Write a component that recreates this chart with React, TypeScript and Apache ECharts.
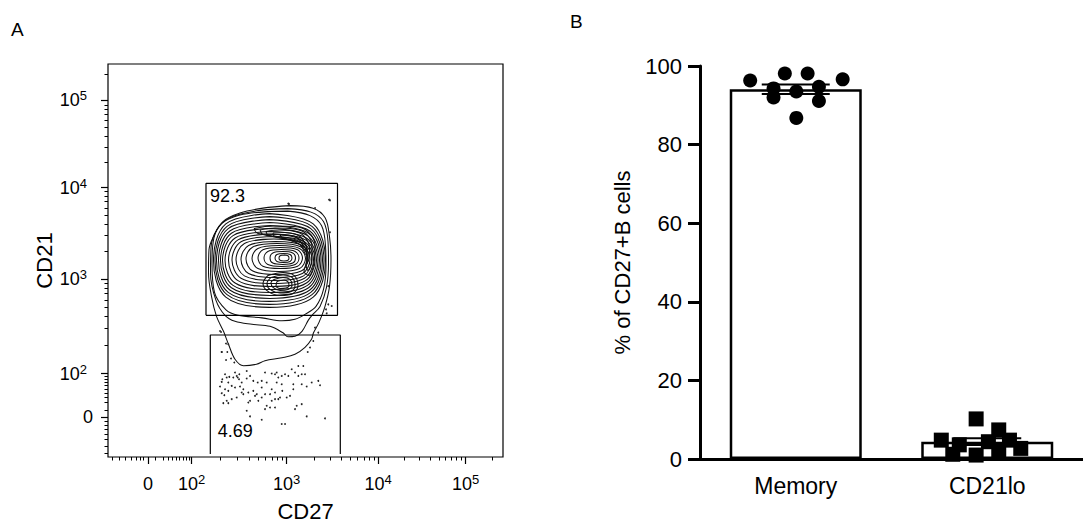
import React, { useEffect, useRef } from 'react';
import * as echarts from 'echarts';

const FONT = '"Liberation Sans", Arial, Helvetica, sans-serif';

// ---------- Panel A : flow plot, values in display channels ----------
const flowMajorTicks = [40, 83.5, 178.5, 270, 357.5];
const flowTickLabels = ['0', '10^2', '10^3', '10^4', '10^5'];
const flowMinorTicks = [4, 11, 17.5, 23, 28, 32, 35.5, 47, 55, 60, 64, 68, 71.5, 75, 78, 81,
  112, 129, 141, 150, 157.5, 164, 169.5, 174, 206, 222, 233.5, 242.5, 249.5, 256, 261, 266,
  296, 311, 322, 331, 337.5, 343.5, 348.5, 353, 384];

const gateUpper = [[98, 142], [229.5, 142], [229.5, 274.3], [98, 274.3], [98, 142]];
const gateLower = [[102.3, 3], [102.3, 122.3], [232.3, 122.3], [232.3, 3]];
const gateLabels = [[102, 262, '92.3'], [109.7, 26.3, '4.69']];

const contourOuter1 = [[182, 252], [205, 249.5], [217, 240], [221.5, 221], [223, 198], [221.5, 171], [217, 151], [211, 135], [205.5, 124.5], [203.5, 118], [197, 110], [187, 103], [174, 99.5], [157, 96.5], [148.5, 93], [135.5, 91.5], [127, 98], [120.5, 113], [115.5, 126], [108.5, 141], [103.5, 161], [100.5, 185], [101, 208], [105.5, 221], [115, 236], [132, 244.5], [155, 249.5]];
const contourOuter2 = [[180, 249], [203, 245.5], [215.5, 236], [220, 216], [220.5, 195], [218.5, 170], [212, 151], [204, 142], [200.5, 137.5], [194, 126], [187, 121], [180, 120.5], [175, 124.5], [162, 131], [144, 133], [127, 136], [117, 142], [108, 157], [102.5, 184], [103, 210], [109, 228], [122, 240], [150, 247]];
const contourOuter3 = [[180, 246.5], [202, 242], [213.5, 232], [217.5, 212], [218, 192], [215.5, 168], [208, 151], [197, 143], [187, 138], [174, 136.5], [154, 139.5], [130, 142], [118, 147.5], [106.5, 165], [104, 195], [106, 220], [113.5, 234], [132, 242.5], [160, 246]];
const contourRings = [
  [[161.5, 244], [205.2, 233.7], [217.5, 197], [205.2, 160.3], [161.5, 150], [117.8, 160.3], [105.5, 197], [117.8, 233.7]],
  [[161.5, 241], [204, 231.3], [216, 197], [204, 162.7], [161.5, 153], [119, 162.7], [107, 197], [119, 231.3]],
  [[161.5, 238], [202.8, 229], [214.5, 197], [202.8, 165], [161.5, 156], [120.2, 165], [108.5, 197], [120.2, 229]],
  [[161.8, 235], [201.8, 226.6], [213, 197], [201.8, 167.4], [161.8, 159], [121.8, 167.4], [110.5, 197], [121.8, 226.6]],
  [[162, 232], [200.6, 224.3], [211.5, 197], [200.6, 169.7], [162, 162], [123.4, 169.7], [112.5, 197], [123.4, 224.3]],
  [[162.3, 229], [199.5, 222], [210, 197], [199.5, 172], [162.3, 165], [125, 172], [114.5, 197], [125, 222]],
  [[162.8, 226], [198.4, 219.6], [208.5, 197], [198.4, 174.4], [162.8, 168], [127.1, 174.4], [117, 197], [127.1, 219.6]],
  [[163.8, 223.5], [197.5, 217.7], [207, 197.3], [197.5, 176.8], [163.8, 171], [130, 176.8], [120.5, 197.3], [130, 217.7]],
  [[164.8, 221], [196.5, 215.8], [205.5, 197.5], [196.5, 179.2], [164.8, 174], [133, 179.2], [124, 197.5], [133, 215.8]],
  [[166, 218.5], [195.6, 214], [204, 197.8], [195.6, 181.6], [166, 177], [136.4, 181.6], [128, 197.8], [136.4, 214]],
  [[167.5, 216], [194.4, 212], [202, 198], [194.4, 184], [167.5, 180], [140.6, 184], [133, 198], [140.6, 212]],
  [[169, 214], [193.2, 210.6], [200, 198.5], [193.2, 186.4], [169, 183], [144.8, 186.4], [138, 198.5], [144.8, 210.6]],
  [[170.8, 212], [191.6, 209.1], [197.5, 199], [191.6, 188.9], [170.8, 186], [149.9, 188.9], [144, 199], [149.9, 209.1]],
  [[172.3, 210], [189.6, 207.7], [194.5, 199.5], [189.6, 191.3], [172.3, 189], [154.9, 191.3], [150, 199.5], [154.9, 207.7]],
  [[173.5, 208], [187.2, 206.1], [191, 199.5], [187.2, 192.9], [173.5, 191], [159.8, 192.9], [156, 199.5], [159.8, 206.1]],
  [[174.8, 206], [184.7, 204.6], [187.5, 199.5], [184.7, 194.4], [174.8, 193], [164.8, 194.4], [162, 199.5], [164.8, 204.6]],
  [[175.5, 204], [182.1, 203], [184, 199.5], [182.1, 196], [175.5, 195], [168.9, 196], [167, 199.5], [168.9, 203]],
  [[176, 202.5], [179.9, 201.8], [181, 199.5], [179.9, 197.2], [176, 196.5], [172.1, 197.2], [171, 199.5], [172.1, 201.8]],
];
// dense secondary peaks: arc across the top-right and a blob below the centre
const contourPeaks = [
  [[146, 229], [165, 231.5], [186, 231], [200, 226], [207, 212], [206, 195], [201, 182], [196, 186], [199, 198], [198, 212], [188, 220], [170, 223], [150, 224]],
  [[152, 227.5], [167, 229.5], [186, 228.5], [198, 224], [204, 211], [203.5, 196], [200, 187], [198, 193], [200, 202], [197, 213], [187, 218], [170, 221], [155, 223]],
  [[158, 226], [171, 227.5], [187, 226], [196, 221.5], [201.5, 210], [201, 199], [199, 194], [198.5, 204], [195, 213], [186, 217], [172, 219.5], [160, 222.5]],
  [[165, 224.5], [177, 225], [187, 223.5], [194, 219], [199, 209], [198, 203], [193, 212], [185, 216], [176, 219], [166, 221.5]],
  [[172, 223], [186, 221.5], [192, 217], [196, 210], [192, 213], [184, 217.5], [174, 220]],
  [[160, 182], [175, 185], [186, 182], [190, 172], [185, 164], [172, 162], [160, 166], [155, 174]],
  [[163, 180], [175, 182.5], [184, 180], [187, 172], [183, 166], [172, 164.5], [162, 168], [159, 174]],
  [[166, 178], [175, 180], [182, 178], [184, 172], [180, 168], [172, 167], [165, 170], [163, 175]],
  [[169, 176], [176, 177.5], [180, 175.5], [181, 172], [178, 169.5], [172, 169], [168, 171.5]],
];

const flowEvents = [
  [113, 125.3], [120.3, 113], [113.7, 105.3], [119.3, 105.3], [118, 97.3], [123, 98.7], [126.3, 94.7], [138.7, 86.3],
  [117, 83], [114.3, 78], [118.7, 79.7], [121.3, 80.3], [125.3, 79.7], [128.7, 81.3], [131.3, 83], [129.7, 79.7],
  [113.7, 75.3], [120.3, 74.7], [123.7, 71.3], [112, 70.7], [117, 68], [113.7, 64], [116.3, 62], [120.3, 66.3],
  [127, 69.7], [132, 70.7], [133.7, 74.7], [138.7, 78.7], [142, 81.3], [145.3, 76.3], [149.7, 74.7], [153.7, 76.3],
  [157, 84.7], [163.7, 83.7], [167, 83], [168.7, 84.7], [170.3, 79.7], [173.7, 81.3], [177, 83], [180.3, 81.3],
  [183.7, 88], [187, 84.7], [190.3, 91.3], [195.3, 91.3], [190.3, 81.3], [193.7, 83], [197, 83], [185.3, 73],
  [185.3, 68], [193.7, 73], [198.7, 70.7], [210.3, 76.3], [212, 72], [203.7, 74.7], [135.3, 68], [140.3, 64.7],
  [145.3, 66.3], [148.7, 63], [153.7, 59.7], [157, 63], [162, 63], [163.7, 68], [167, 64.7], [168.7, 74.7],
  [170.3, 58], [172, 59.7], [174.3, 66.3], [167, 58], [158.7, 51.3], [157, 48], [162, 49.7], [167, 49.7],
  [142, 56.3], [140.3, 54.7], [138.7, 46.3], [135.3, 63], [128.7, 59.7], [123.7, 58], [118.7, 56.3], [120.3, 54],
  [115.3, 54], [187, 48], [188.7, 51.3], [193.7, 53], [198.7, 40.7], [217, 38.7], [153.7, 37.3], [142, 40.7],
  [173.7, 33], [177, 33], [133.7, 64.7], [147, 61.3], [150.3, 56.3], [163.7, 56.3], [178.7, 59.7], [182, 61.3],
  [173.7, 73], [158.7, 74.7], [153.7, 69.7], [127, 84.7], [131, 78],
  [221, 258], [181, 253.7], [207, 249.7], [222, 225.3], [220.3, 153], [218, 148], [207, 129.7], [210.3, 124.7],
  [205.3, 116.3], [202, 109.7], [199.7, 105.3], [112, 126.3], [118, 113.7], [113.7, 105.3], [180.3, 254],
  [222, 257.3], [220.3, 171.3], [223.7, 151.3], [218.7, 144],
];

// ---------- Panel B : bar chart ----------
const categories = ['Memory', 'CD21lo'];
const barMeans = [94.1, 4.4];
const barSem = [1.22, 0.85];
// x: position along the category band (0..2, category centres at 0.5 and 1.5)
const memoryPoints = [[0.262, 96.3], [0.443, 98.1], [0.562, 98.1], [0.745, 96.6], [0.384, 92.0],
  [0.503, 93.5], [0.621, 91.1], [0.503, 86.8], [0.384, 94.3], [0.621, 94.7]];
const cd21loPoints = [[1.442, 10.2], [1.56, 7.4], [1.26, 4.8], [1.354, 3.6], [1.506, 4.4],
  [1.616, 4.8], [1.32, 1.2], [1.442, 1.0], [1.56, 1.45], [1.675, 2.7]];

const closeLoop = (pts: number[][]) => [...pts, pts[0]];

const flowLabel = (v: number, spacer: boolean) => {
  const i = flowMajorTicks.findIndex((t) => Math.abs(t - v) < 0.01);
  const s = flowTickLabels[i] ?? '';
  if (!s.includes('^')) return `{b|${s}}`;
  const [base, exp] = s.split('^');
  return `{b|${base}}{s|${exp}}` + (spacer ? '{g| }' : '');
};

const flowRich = {
  b: { fontSize: 18, fontFamily: FONT, color: '#000', lineHeight: 22 },
  s: { fontSize: 13, fontFamily: FONT, color: '#000', lineHeight: 13, verticalAlign: 'top' },
  g: { width: 6, fontSize: 12 },
};

export default function App() {
  const ref = useRef<HTMLDivElement>(null);

  useEffect(() => {
    if (!ref.current) return;
    const chart = echarts.init(ref.current, undefined, { renderer: 'svg' });

    const contourSeries = [contourOuter1, contourOuter2, contourOuter3, ...contourRings, ...contourPeaks].map((c) => ({
      type: 'line',
      xAxisIndex: 0,
      yAxisIndex: 0,
      data: closeLoop(c),
      smooth: 0.35,
      symbol: 'none',
      silent: true,
      lineStyle: { color: '#111', width: 1.05, opacity: 1 },
      z: 2,
    }));

    const option: any = {
      animation: false,
      backgroundColor: '#fff',
      textStyle: { fontFamily: FONT },
      grid: [
        { left: 108, top: 64, width: 395, height: 394, show: true, borderColor: '#000', borderWidth: 1.2, backgroundColor: 'transparent' },
        { left: 700, top: 66, width: 394, height: 393 },
      ],
      xAxis: [
        {
          gridIndex: 0, type: 'value', min: 0, max: 395, position: 'bottom',
          axisLine: { show: false }, splitLine: { show: false },
          axisTick: { customValues: flowMajorTicks, length: 7, lineStyle: { color: '#000', width: 1.2 } },
          axisLabel: { customValues: flowMajorTicks, margin: 16, formatter: (v: number) => flowLabel(v, false), rich: flowRich },
          name: 'CD27', nameLocation: 'middle', nameGap: 43,
          nameTextStyle: { fontSize: 22, fontFamily: FONT, color: '#000' },
        },
        {
          gridIndex: 0, type: 'value', min: 0, max: 395, position: 'bottom',
          axisLine: { show: false }, splitLine: { show: false }, axisLabel: { show: false },
          axisTick: { customValues: flowMinorTicks, length: 3.5, lineStyle: { color: '#000', width: 1 } },
        },
        {
          gridIndex: 1, type: 'category', data: categories, position: 'bottom',
          axisLine: { lineStyle: { color: '#000', width: 3 } },
          axisTick: { alignWithLabel: true, length: 12, lineStyle: { color: '#000', width: 3 } },
          axisLabel: { fontSize: 23, fontFamily: FONT, color: '#000', margin: 15 },
        },
        { gridIndex: 1, type: 'value', min: 0, max: 2, show: false },
      ],
      yAxis: [
        {
          gridIndex: 0, type: 'value', min: 0, max: 394, position: 'left',
          axisLine: { show: false }, splitLine: { show: false },
          axisTick: { customValues: flowMajorTicks, length: 7, lineStyle: { color: '#000', width: 1.2 } },
          axisLabel: { customValues: flowMajorTicks, margin: 15, formatter: (v: number) => flowLabel(v, true), rich: flowRich },
          name: 'CD21', nameLocation: 'middle', nameGap: 43,
          nameTextStyle: { fontSize: 22, fontFamily: FONT, color: '#000' },
        },
        {
          gridIndex: 0, type: 'value', min: 0, max: 394, position: 'left',
          axisLine: { show: false }, splitLine: { show: false }, axisLabel: { show: false },
          axisTick: { customValues: flowMinorTicks, length: 3.5, lineStyle: { color: '#000', width: 1 } },
        },
        {
          gridIndex: 1, type: 'value', min: 0, max: 100, interval: 20,
          axisLine: { show: true, lineStyle: { color: '#000', width: 3 } },
          axisTick: { show: true, length: 12, lineStyle: { color: '#000', width: 3 } },
          splitLine: { show: false },
          axisLabel: { fontSize: 22, fontFamily: FONT, color: '#000', margin: 18 },
          name: '% of CD27+B cells', nameLocation: 'middle', nameGap: 67,
          nameTextStyle: { fontSize: 22, fontFamily: FONT, color: '#000' },
        },
      ],
      series: [
        ...contourSeries,
        {
          type: 'scatter', xAxisIndex: 0, yAxisIndex: 0, data: flowEvents,
          symbolSize: 1.8, itemStyle: { color: '#222', opacity: 1 }, silent: true, z: 3,
        },
        {
          type: 'line', xAxisIndex: 0, yAxisIndex: 0, data: gateUpper, symbol: 'none',
          lineStyle: { color: '#000', width: 1.2 }, silent: true, z: 4,
        },
        {
          type: 'line', xAxisIndex: 0, yAxisIndex: 0, data: gateLower, symbol: 'none',
          lineStyle: { color: '#000', width: 1.2 }, silent: true, z: 4,
        },
        {
          type: 'scatter', xAxisIndex: 0, yAxisIndex: 0, data: gateLabels, symbolSize: 0, silent: true, z: 5,
          itemStyle: { opacity: 1 },
          label: {
            show: true, position: 'right', distance: 0, fontSize: 18, fontFamily: FONT, color: '#000',
            formatter: (p: any) => p.value[2],
          },
        },
        {
          type: 'bar', xAxisIndex: 2, yAxisIndex: 2, data: barMeans, barWidth: 132,
          itemStyle: { color: '#fff', borderColor: '#000', borderWidth: 2.5 }, z: 2,
        },
        {
          type: 'scatter', xAxisIndex: 3, yAxisIndex: 2, data: memoryPoints,
          symbol: 'circle', symbolSize: 14, itemStyle: { color: '#000', opacity: 1 }, z: 3,
        },
        {
          type: 'scatter', xAxisIndex: 3, yAxisIndex: 2, data: cd21loPoints,
          symbol: 'rect', symbolSize: 15, itemStyle: { color: '#000', opacity: 1 }, z: 3,
        },
        {
          type: 'custom', xAxisIndex: 2, yAxisIndex: 2, z: 4,
          data: categories.map((c, i) => [i, barMeans[i], barSem[i]]),
          encode: { x: 0, y: 1 },
          renderItem: (params: any, api: any) => {
            const cat = api.value(0);
            const m = api.value(1);
            const s = api.value(2);
            const top = api.coord([cat, m + s]);
            const bot = api.coord([cat, m - s]);
            const hw = 34;
            const style = { stroke: '#000', lineWidth: 2 };
            return {
              type: 'group',
              children: [
                { type: 'line', shape: { x1: top[0], y1: top[1], x2: bot[0], y2: bot[1] }, style },
                { type: 'line', shape: { x1: top[0] - hw, y1: top[1], x2: top[0] + hw, y2: top[1] }, style },
                { type: 'line', shape: { x1: bot[0] - hw, y1: bot[1], x2: bot[0] + hw, y2: bot[1] }, style },
              ],
            };
          },
        },
      ],
      graphic: [
        { type: 'text', left: 11, top: 20, style: { text: 'A', fontSize: 19, fontFamily: FONT, fill: '#000' } },
        { type: 'text', left: 570, top: 12, style: { text: 'B', fontSize: 19, fontFamily: FONT, fill: '#000' } },
      ],
    };

    chart.setOption(option);
    return () => chart.dispose();
  }, []);

  return (
    <div
      ref={ref}
      style={{ position: 'fixed', left: 0, top: 0, width: 1083, height: 527, background: '#fff' }}
    />
  );
}
